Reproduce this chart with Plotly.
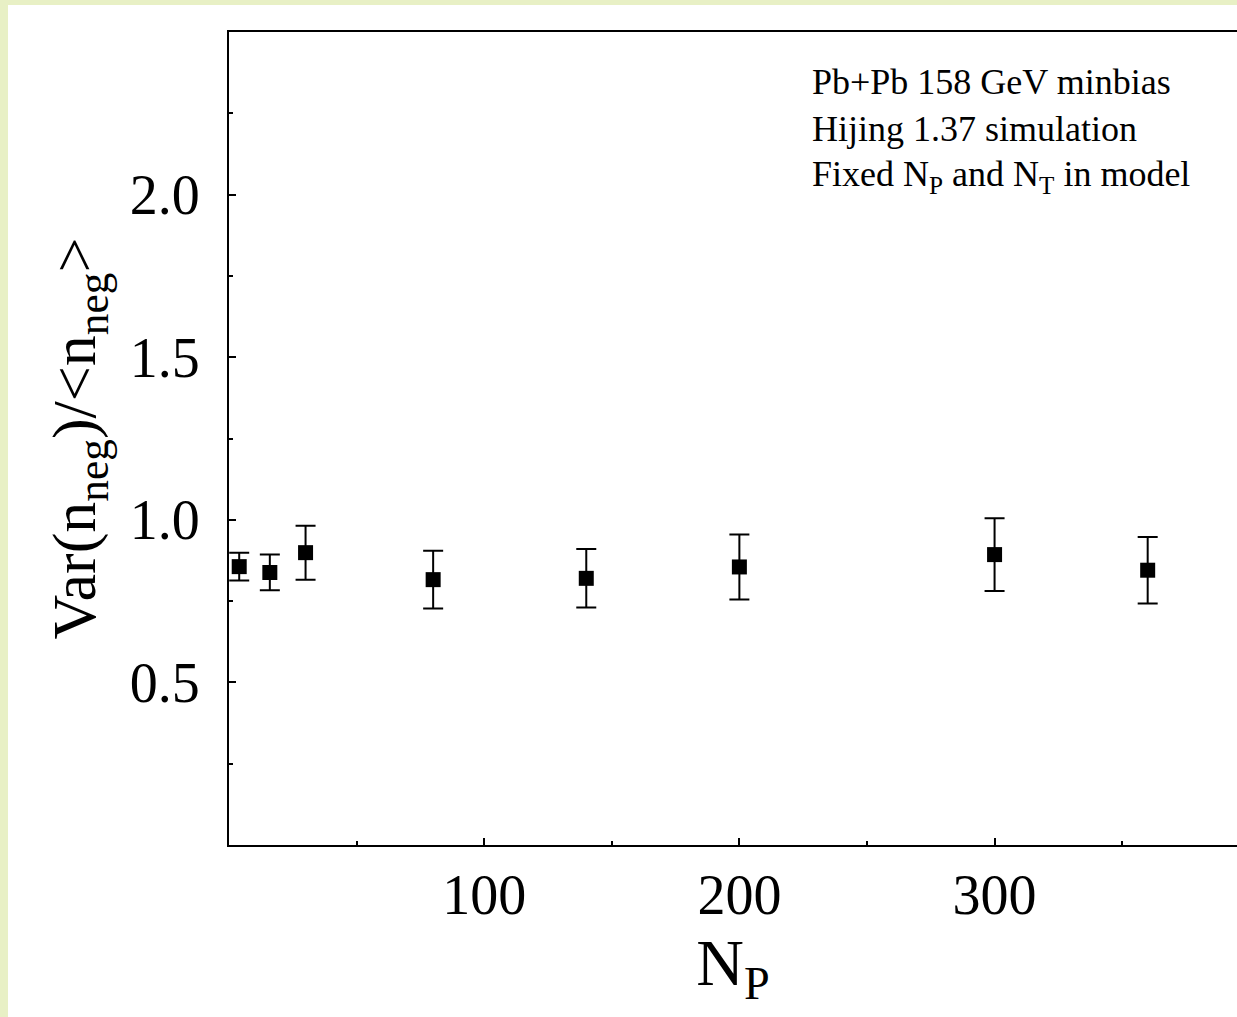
import plotly.graph_objects as go

# Data
n_part = [4, 16, 30, 80, 140, 200, 300, 360]
ratio = [0.856, 0.838, 0.899, 0.816, 0.820, 0.855, 0.893, 0.845]
err = [0.043, 0.055, 0.083, 0.089, 0.090, 0.100, 0.112, 0.102]

info_lines = ["Pb+Pb 158 GeV minbias",
              "Hijing 1.37 simulation",
              "Fixed N<sub>P</sub> and N<sub>T</sub> in model"]

W, H = 1237, 1017
L, R, T, B = 229, 0, 32, 172
pw, ph = W - L - R, H - T - B
serif = "Liberation Serif, Times New Roman, serif"

fig = go.Figure()
fig.add_trace(go.Scatter(
    x=n_part, y=ratio, mode="markers",
    marker=dict(symbol="square", size=15, color="black"),
    error_y=dict(type="data", array=err, visible=True, color="black",
                 thickness=2, width=10),
    showlegend=False, cliponaxis=False))

for i, line in enumerate(info_lines):
    fig.add_annotation(x=(810 - L) / pw, y=1 - (82 + 47 * i - T) / ph,
                       xref="paper", yref="paper",
                       text=line, showarrow=False, xanchor="left", yanchor="middle",
                       font=dict(family=serif, size=36, color="black"))

# yellow frame strips (left and top)
fig.add_shape(type="rect", xref="paper", yref="paper",
              x0=-L / pw, x1=-(L - 8) / pw, y0=-B / ph, y1=1 + T / ph,
              fillcolor="#E8F0C5", line=dict(width=0), layer="below")
fig.add_shape(type="rect", xref="paper", yref="paper",
              x0=-L / pw, x1=1.0, y0=1 + (T - 5) / ph, y1=1 + T / ph,
              fillcolor="#E8F0C5", line=dict(width=0), layer="below")

fig.update_layout(
    width=W, height=H,
    margin=dict(l=L, r=R, t=T, b=B, pad=0),
    paper_bgcolor="white", plot_bgcolor="white",
    font=dict(family=serif, color="black"),
    xaxis=dict(range=[0, 395], tickvals=[100, 200, 300], ticks="inside", ticklen=7,
               tickwidth=2, tickcolor="black", showline=True, linewidth=2,
               linecolor="black", mirror=True, showgrid=False, zeroline=False,
               tickfont=dict(family=serif, size=56), ticklabelstandoff=0,
               minor=dict(tickvals=[50, 150, 250, 350], ticks="inside", ticklen=4,
                          tickwidth=2, tickcolor="black", showgrid=False),
               title=dict(text="N<sub>P</sub>", font=dict(family=serif, size=66),
                          standoff=0)),
    yaxis=dict(range=[0, 2.5], tickvals=[0.5, 1.0, 1.5, 2.0], ticktext=["0.5", "1.0", "1.5", "2.0"],
               ticks="inside", ticklen=7, tickwidth=2, tickcolor="black",
               showline=True, linewidth=2, linecolor="black", mirror=False,
               showgrid=False, zeroline=False,
               tickfont=dict(family=serif, size=56), ticklabelstandoff=16,
               minor=dict(tickvals=[0.25, 0.75, 1.25, 1.75, 2.25], ticks="inside",
                          ticklen=4, tickwidth=2, tickcolor="black", showgrid=False),
               title=dict(text="Var(n<sub>neg</sub>)/&lt;n<sub>neg</sub>&gt;",
                          font=dict(family=serif, size=62), standoff=14)),
)

fig.write_html("out.html")
